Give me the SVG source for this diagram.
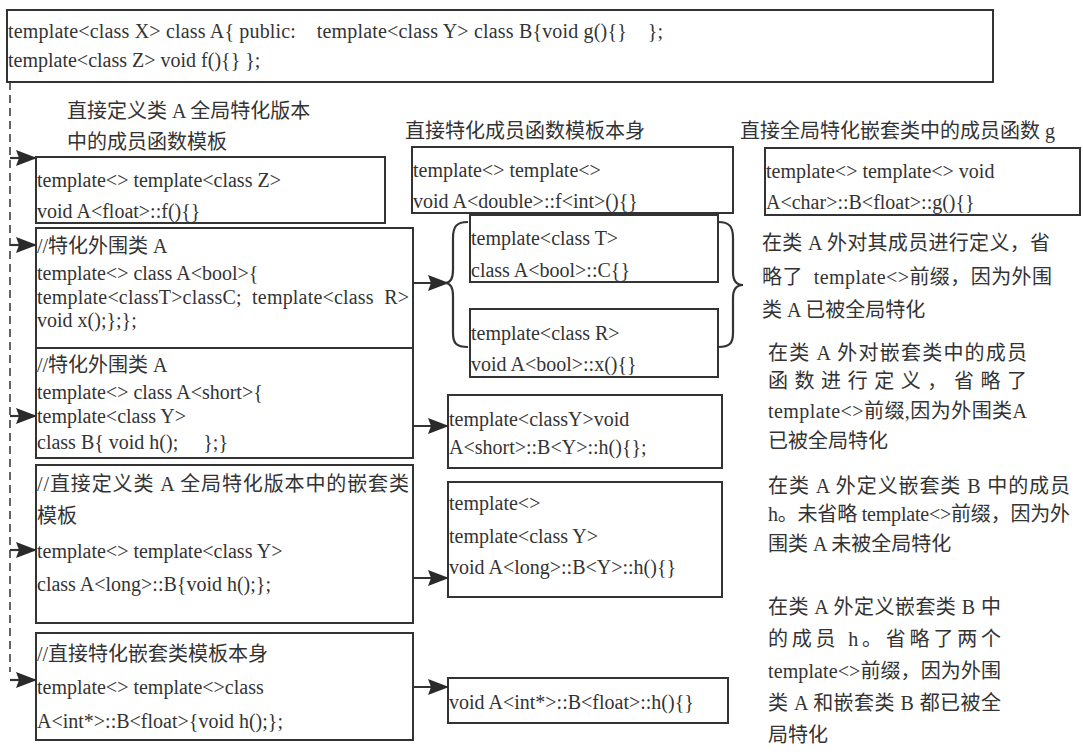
<svg xmlns="http://www.w3.org/2000/svg" width="1083" height="754" viewBox="0 0 1083 754">
  <style>
    .box { fill: none; stroke: #333; stroke-width: 2; }
    .t { font-family: "Liberation Serif", "Noto Sans CJK SC", serif; font-size: 20px; fill: #333; }
    .conn { fill: none; stroke: #333; stroke-width: 2.2; }
    .dash { fill: none; stroke: #333; stroke-width: 1.5; stroke-dasharray: 8 5; }
  </style>
  <defs>
    <marker id="arrow" markerUnits="userSpaceOnUse" markerWidth="21" markerHeight="16" refX="20" refY="8" orient="auto" viewBox="0 0 21 16">
      <path d="M0,0 L21,8 L0,16 L3,8 Z" fill="#2a2a2a"/>
    </marker>
  </defs>
  <rect width="1083" height="754" fill="#fff"/>

  <!-- primary template -->
  <g id="primary">
    <rect class="box" x="7" y="10" width="986" height="72"/>
    <text class="t" x="8" y="38" xml:space="preserve" textLength="655" lengthAdjust="spacing">template&lt;class X&gt; class A{ public:    template&lt;class Y&gt; class B{void g(){}    };</text>
    <text class="t" x="8" y="67">template&lt;class Z&gt; void f(){} };</text>
  </g>

  <!-- column headings -->
  <g id="heading-left">
    <text class="t" x="67" y="118">直接定义类 A 全局特化版本</text>
    <text class="t" x="67" y="149">中的成员函数模板</text>
  </g>
  <g id="heading-mid">
    <text class="t" x="405" y="138">直接特化成员函数模板本身</text>
  </g>
  <g id="heading-right">
    <text class="t" x="740" y="138">直接全局特化嵌套类中的成员函数 g</text>
  </g>

  <!-- left column -->
  <g id="float-f">
    <rect class="box" x="36" y="157" width="349" height="66"/>
    <text class="t" x="37" y="187">template&lt;&gt; template&lt;class Z&gt;</text>
    <text class="t" x="37" y="218">void A&lt;float&gt;::f(){}</text>
  </g>
  <g id="bool-class">
    <rect class="box" x="36" y="228" width="377" height="120"/>
    <text class="t" x="37" y="253">//特化外围类 A</text>
    <text class="t" x="37" y="280">template&lt;&gt; class A&lt;bool&gt;{</text>
    <text class="t" x="37" y="304" xml:space="preserve" textLength="372" lengthAdjust="spacing">template&lt;classT&gt;classC;  template&lt;class  R&gt;</text>
    <text class="t" x="37" y="327">void x();};};</text>
  </g>
  <g id="short-class">
    <rect class="box" x="36" y="348" width="377" height="110"/>
    <text class="t" x="37" y="372">//特化外围类 A</text>
    <text class="t" x="37" y="399">template&lt;&gt; class A&lt;short&gt;{</text>
    <text class="t" x="37" y="423">template&lt;class Y&gt;</text>
    <text class="t" x="37" y="449" xml:space="preserve">class B{ void h();     };}</text>
  </g>
  <g id="long-nested">
    <rect class="box" x="36" y="465" width="377" height="158"/>
    <text class="t" x="37" y="491" textLength="372" lengthAdjust="spacing">//直接定义类 A 全局特化版本中的嵌套类</text>
    <text class="t" x="37" y="523">模板</text>
    <text class="t" x="37" y="558">template&lt;&gt; template&lt;class Y&gt;</text>
    <text class="t" x="37" y="591">class A&lt;long&gt;::B{void h();};</text>
  </g>
  <g id="intptr-nested">
    <rect class="box" x="36" y="633" width="377" height="107"/>
    <text class="t" x="37" y="661">//直接特化嵌套类模板本身</text>
    <text class="t" x="37" y="694">template&lt;&gt; template&lt;&gt;class</text>
    <text class="t" x="37" y="728">A&lt;int*&gt;::B&lt;float&gt;{void h();};</text>
  </g>

  <!-- middle column -->
  <g id="double-f-int">
    <rect class="box" x="412" y="147" width="321" height="66"/>
    <text class="t" x="413" y="177">template&lt;&gt; template&lt;&gt;</text>
    <text class="t" x="413" y="208">void A&lt;double&gt;::f&lt;int&gt;(){}</text>
  </g>
  <g id="bool-C">
    <rect class="box" x="470" y="215" width="248" height="67"/>
    <text class="t" x="471" y="245">template&lt;class T&gt;</text>
    <text class="t" x="471" y="277">class A&lt;bool&gt;::C{}</text>
  </g>
  <g id="bool-x">
    <rect class="box" x="470" y="309" width="248" height="68"/>
    <text class="t" x="471" y="340">template&lt;class R&gt;</text>
    <text class="t" x="471" y="371">void A&lt;bool&gt;::x(){}</text>
  </g>
  <g id="short-h">
    <rect class="box" x="448" y="395" width="274" height="73"/>
    <text class="t" x="449" y="426">template&lt;classY&gt;void</text>
    <text class="t" x="449" y="454">A&lt;short&gt;::B&lt;Y&gt;::h(){};</text>
  </g>
  <g id="long-h">
    <rect class="box" x="448" y="482" width="274" height="115"/>
    <text class="t" x="449" y="510">template&lt;&gt;</text>
    <text class="t" x="449" y="543">template&lt;class Y&gt;</text>
    <text class="t" x="449" y="574">void A&lt;long&gt;::B&lt;Y&gt;::h(){}</text>
  </g>
  <g id="intptr-h">
    <rect class="box" x="448" y="678" width="280" height="45"/>
    <text class="t" x="449" y="709">void A&lt;int*&gt;::B&lt;float&gt;::h(){}</text>
  </g>

  <!-- right column -->
  <g id="char-g">
    <rect class="box" x="765" y="148" width="315" height="67"/>
    <text class="t" x="766" y="178">template&lt;&gt; template&lt;&gt; void</text>
    <text class="t" x="766" y="209">A&lt;char&gt;::B&lt;float&gt;::g(){}</text>
  </g>
  <g id="note-bool">
    <text class="t" x="762" y="250" textLength="288" lengthAdjust="spacing">在类 A 外对其成员进行定义，省</text>
    <text class="t" x="762" y="284" textLength="290" lengthAdjust="spacing" xml:space="preserve">略了  template&lt;&gt;前缀，因为外围</text>
    <text class="t" x="762" y="317">类 A 已被全局特化</text>
  </g>
  <g id="note-short">
    <text class="t" x="768" y="360" textLength="259" lengthAdjust="spacing">在类 A 外对嵌套类中的成员</text>
    <text class="t" x="768" y="388" textLength="259" lengthAdjust="spacing">函数进行定义，省略了</text>
    <text class="t" x="768" y="418" textLength="259" lengthAdjust="spacing">template&lt;&gt;前缀,因为外围类A</text>
    <text class="t" x="768" y="448">已被全局特化</text>
  </g>
  <g id="note-long">
    <text class="t" x="768" y="493" textLength="302" lengthAdjust="spacing">在类 A 外定义嵌套类 B 中的成员</text>
    <text class="t" x="768" y="521" textLength="302" lengthAdjust="spacing">h。未省略 template&lt;&gt;前缀，因为外</text>
    <text class="t" x="768" y="551">围类 A 未被全局特化</text>
  </g>
  <g id="note-intptr">
    <text class="t" x="768" y="614" textLength="233" lengthAdjust="spacing">在类 A 外定义嵌套类 B 中</text>
    <text class="t" x="768" y="646" textLength="233" lengthAdjust="spacing">的成员 h。省略了两个</text>
    <text class="t" x="768" y="678" textLength="233" lengthAdjust="spacing">template&lt;&gt;前缀，因为外围</text>
    <text class="t" x="768" y="710" textLength="233" lengthAdjust="spacing">类 A 和嵌套类 B 都已被全</text>
    <text class="t" x="768" y="742">局特化</text>
  </g>

  <!-- connectors -->
  <g id="connectors">
    <line class="dash" x1="10" y1="82" x2="10" y2="672"/>
    <line class="conn" x1="10" y1="158" x2="36" y2="158" marker-end="url(#arrow)"/>
    <line class="conn" x1="10" y1="245" x2="36" y2="245" marker-end="url(#arrow)"/>
    <line class="conn" x1="10" y1="416" x2="36" y2="416" marker-end="url(#arrow)"/>
    <line class="conn" x1="10" y1="550" x2="36" y2="550" marker-end="url(#arrow)"/>
    <line class="conn" x1="10" y1="680" x2="36" y2="680" marker-end="url(#arrow)"/>
    <line class="conn" x1="413" y1="283" x2="448" y2="283" marker-end="url(#arrow)"/>
    <line class="conn" x1="413" y1="426" x2="448" y2="426" marker-end="url(#arrow)"/>
    <line class="conn" x1="413" y1="578" x2="448" y2="578" marker-end="url(#arrow)"/>
    <line class="conn" x1="413" y1="687" x2="448" y2="687" marker-end="url(#arrow)"/>
    <path class="conn" d="M468,222 C456,222 453,227 453,238 L453,270 C453,279 450,283 445,283 C450,283 453,287 453,296 L453,333 C453,343 456,347 468,347"/>
    <path class="conn" d="M718,222 C730,222 733,227 733,238 L733,272 C733,281 737,285 743,285 C737,285 733,289 733,298 L733,333 C733,343 730,347 718,347"/>
  </g>
</svg>
